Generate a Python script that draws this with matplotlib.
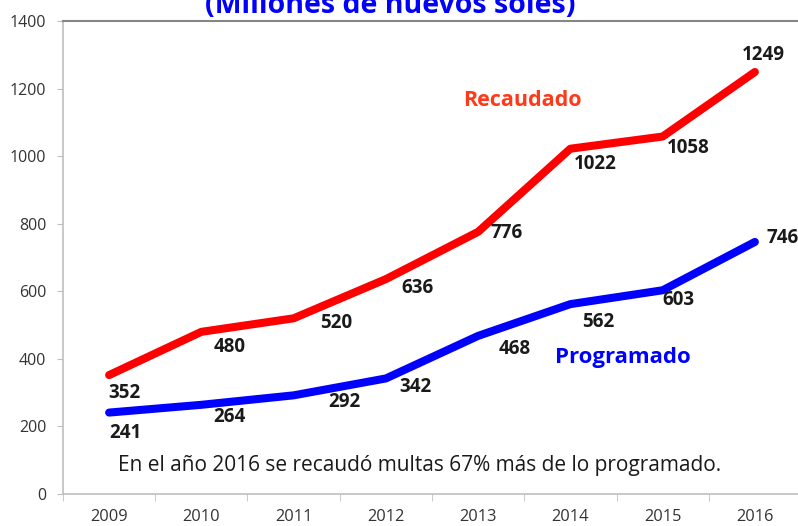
import matplotlib.pyplot as plt

# data
years = ["2009", "2010", "2011", "2012", "2013", "2014", "2015", "2016"]
recaudado = [352, 480, 520, 636, 776, 1022, 1058, 1249]
programado = [241, 264, 292, 342, 468, 562, 603, 746]

# label offsets in pixels (dx, dy) relative to each point
rec_off = [(15, -18), (28, -15), (43, -5), (32, -9), (29, -1), (25, -15), (26, -11), (8, 17)]
prog_off = [(16, -20), (28, -12), (51, -7), (30, -9), (37, -13), (28, -18), (16, -10), (28, 4)]

plt.rcParams["font.family"] = ["Open Sans", "DejaVu Sans"]

fig = plt.figure(figsize=(7.98, 5.26), dpi=100)
ax = fig.add_axes([63 / 798, 1 - 494 / 526, (801 - 63) / 798, (494 - 21) / 526])

x = list(range(len(years)))
ax.plot(x, recaudado, color="#FF0000", lw=5.8, solid_joinstyle="round", solid_capstyle="round")
ax.plot(x, programado, color="#0000FF", lw=5.8, solid_joinstyle="round", solid_capstyle="round")

for xi, v, (dx, dy) in zip(x, recaudado, rec_off):
    ax.annotate(str(v), (xi, v), xytext=(dx * 0.72, dy * 0.72), textcoords="offset points",
                ha="center", va="center", fontsize=13.5, fontweight="bold", color="#1a1a1a")
for xi, v, (dx, dy) in zip(x, programado, prog_off):
    ax.annotate(str(v), (xi, v), xytext=(dx * 0.72, dy * 0.72), textcoords="offset points",
                ha="center", va="center", fontsize=13.5, fontweight="bold", color="#1a1a1a")

ax.set_xlim(-0.5, len(years) - 0.5)
ax.set_ylim(0, 1400)
ax.set_yticks(range(0, 1401, 200))
ax.set_xticks(x)
ax.set_xticklabels(years)
ax.set_xticks([i - 0.5 for i in range(len(years) + 1)], minor=True)
ax.tick_params(axis="x", which="major", length=0, pad=11, labelsize=11.8, labelcolor="#333333")
ax.tick_params(axis="x", which="minor", length=5, color="#BFBFBF", direction="out")
ax.tick_params(axis="y", length=4, color="#BFBFBF", labelsize=11.5, labelcolor="#333333", pad=8)

ax.spines["right"].set_visible(False)
ax.spines["left"].set_color("#BFBFBF")
ax.spines["bottom"].set_color("#BFBFBF")
ax.spines["top"].set_color("#868686")
ax.spines["left"].set_linewidth(1.2)
ax.spines["bottom"].set_linewidth(1.2)
ax.spines["top"].set_linewidth(1.5)

fig.text(522 / 798, 1 - 100 / 526, "Recaudado", color="#FF3A1A", fontsize=15.5,
         fontweight="bold", ha="center", va="center")
fig.text(623 / 798, 1 - 358 / 526, "Programado", color="#0000FF", fontsize=16,
         fontweight="bold", ha="center", va="center")
fig.text(420 / 798, 1 - 466 / 526, "En el año 2016 se recaudó multas 67% más de lo programado.",
         color="#1a1a1a", fontsize=15, ha="center", va="center")
fig.text(390 / 798, 1 - 13 / 526, "(Millones de nuevos soles)", color="#0000FF", fontsize=20.5,
         fontweight="bold", ha="center", va="baseline")

fig.savefig("out.png", dpi=100)
